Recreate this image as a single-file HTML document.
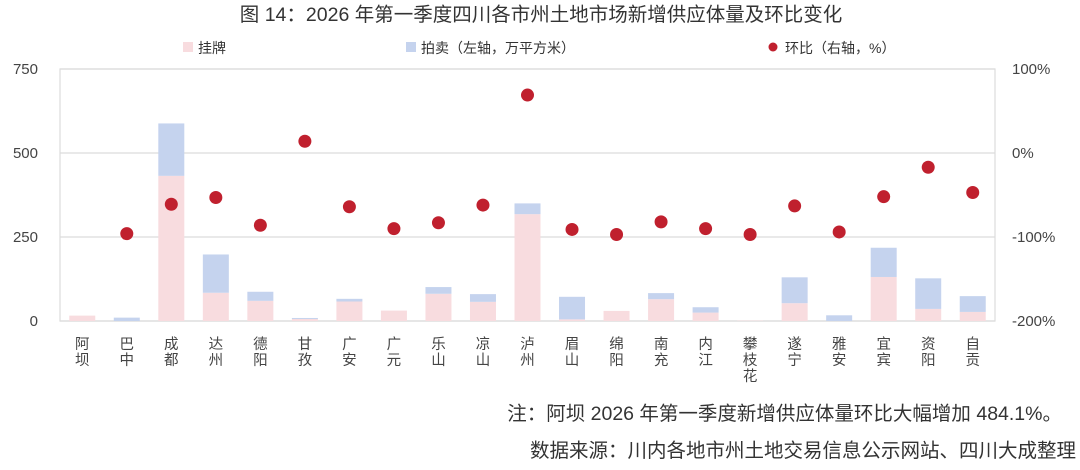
<!DOCTYPE html>
<html><head><meta charset="utf-8">
<style>
body{margin:0;background:#fff;width:1080px;height:465px;overflow:hidden;font-family:"Liberation Sans","Noto Sans CJK SC",sans-serif;}
svg text{font-family:"Liberation Sans","Noto Sans CJK SC",sans-serif;}
</style></head>
<body>
<svg id="chart" width="1080" height="465" xmlns="http://www.w3.org/2000/svg">
<text x="541" y="21" text-anchor="middle" font-size="19.5" fill="#333">图 14：2026 年第一季度四川各市州土地市场新增供应体量及环比变化</text>
<g>
<rect x="183" y="42" width="10" height="10" fill="#f8dcdf"/>
<text x="198" y="53" font-size="14" fill="#333">挂牌</text>
<rect x="406" y="42" width="10" height="10" fill="#c5d3ee"/>
<text x="421" y="53" font-size="14" fill="#333">拍卖（左轴，万平方米）</text>
<circle cx="773" cy="47" r="4.5" fill="#c0202e"/>
<text x="785" y="53" font-size="14" fill="#333">环比（右轴，%）</text>
</g>
<g id="plot"></g>
<text x="1062" y="420" text-anchor="end" font-size="19.5" fill="#333">注：阿坝 2026 年第一季度新增供应体量环比大幅增加 484.1%。</text>
<text x="1076" y="457" text-anchor="end" font-size="19.5" fill="#333">数据来源：川内各地市州土地交易信息公示网站、四川大成整理</text>
</svg>
<script>
const categories=["阿坝","巴中","成都","达州","德阳","甘孜","广安","广元","乐山","凉山","泸州","眉山","绵阳","南充","内江","攀枝花","遂宁","雅安","宜宾","资阳","自贡"];
const listing=[16,0,432,84,60,6,58,31,81,57,318,5,30,65,25,1,53,0,131,36,27];
const auction=[0,10,156,114,27,3,8,0,20,23,32,67,0,18,16,0,77,17,87,91,47];
const ratio=[null,-96,-61,-53,-86,14,-64,-90,-83,-62,69,-91,-97,-82,-90,-97,-63,-94,-52,-17,-47];
const leftTicks=[0,250,500,750];
const rightTicks=["-200%","-100%","0%","100%"];
const rightVals=[-200,-100,0,100];

const NS="http://www.w3.org/2000/svg";
const g=document.getElementById('plot');
const X0=60,X1=995,Y0=321,Y1=69;
const bw=(X1-X0)/categories.length;
const yL=v=>Y0-(v/750)*(Y0-Y1);
const yR=v=>Y0-((v+200)/300)*(Y0-Y1);
const xC=i=>X0+bw*(i+0.5);
function mk(tag,attrs){const e=document.createElementNS(NS,tag);for(const k in attrs)e.setAttribute(k,attrs[k]);g.appendChild(e);return e;}

leftTicks.forEach((t,i)=>{
  const l=mk('line',{x1:X0,x2:X1,y1:yL(t),y2:yL(t),stroke:'#dcdcdc','stroke-width':1.2});
  
  
  const tx=mk('text',{x:38,y:yL(t)+5,'text-anchor':'end','font-size':15,fill:'#444'});
  tx.textContent=t;
  
  
});
rightVals.forEach((v,i)=>{
  const tx=mk('text',{x:1012,y:yR(v)+5,'font-size':15,fill:'#444'});
  tx.textContent=rightTicks[i];
  
  
});
const fr=mk('rect',{x:X0,y:Y1,width:X1-X0,height:Y0-Y1,fill:'none',stroke:'#dcdcdc','stroke-width':1.2});



categories.forEach((c,i)=>{
  const x=xC(i)-13;
  if(listing[i]>0){
    const r=mk('rect',{x:x,y:yL(listing[i]),width:26,height:Y0-yL(listing[i]),fill:'#f8dcdf'});
    
    
  }
  if(auction[i]>0){
    const top=yL(listing[i]+auction[i]);
    const r=mk('rect',{x:x,y:top,width:26,height:yL(listing[i])-top,fill:'#c5d3ee'});
    
    
  }
  [...c].forEach((ch,k)=>{
    const t=mk('text',{x:xC(i),y:349+k*16,'text-anchor':'middle','font-size':14.5,fill:'#444'});
    t.textContent=ch;
    
    
  });
});
ratio.forEach((v,i)=>{
  if(v===null)return;
  const d=mk('circle',{cx:xC(i),cy:yR(v),r:6.5,fill:'#c0202e'});
  
  
});
</script>
</body></html>
